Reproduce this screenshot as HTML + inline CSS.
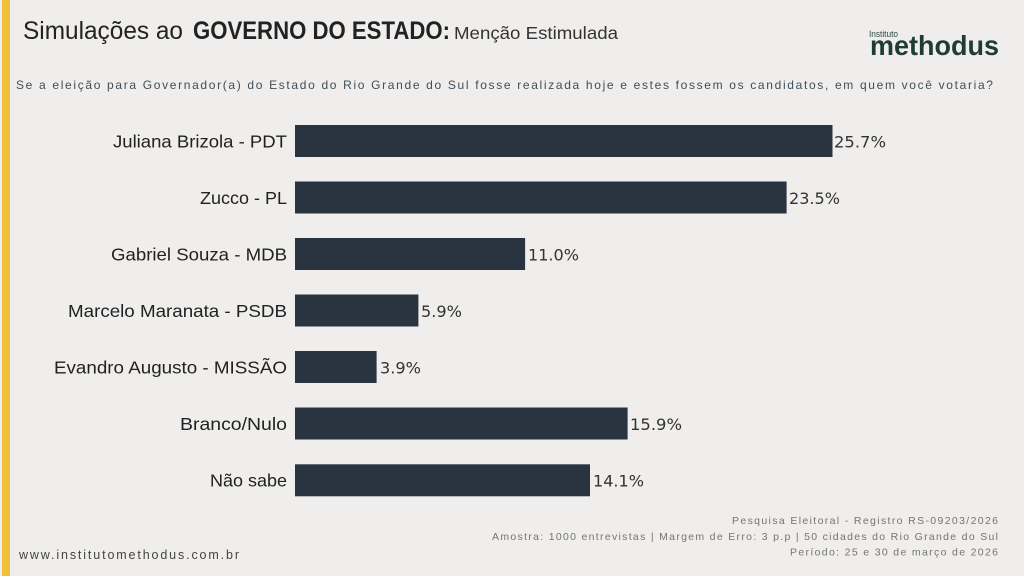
<!DOCTYPE html>
<html>
<head>
<meta charset="utf-8">
<style>
html,body{margin:0;padding:0;background:#efeeec;}
svg{display:block;}
</style>
</head>
<body>
<svg width="1024" height="576" viewBox="0 0 1024 576" xmlns="http://www.w3.org/2000/svg">
  <rect x="0" y="0" width="1024" height="576" fill="#efeeec"/>
  <rect x="2" y="0" width="8" height="576" fill="#f1c03b"/>

  <!-- Title -->
  <g font-family="Liberation Sans, sans-serif" fill="#222">
    <text x="23" y="39" font-size="25" textLength="160" lengthAdjust="spacingAndGlyphs">Simulações ao</text>
    <text x="193" y="39" font-size="25" font-weight="bold" textLength="257" lengthAdjust="spacingAndGlyphs">GOVERNO DO ESTADO:</text>
    <text x="454" y="39" font-size="17.5" textLength="164" lengthAdjust="spacingAndGlyphs" fill="#333">Menção Estimulada</text>
  </g>

  <!-- Logo -->
  <g font-family="Liberation Sans, sans-serif">
    <text x="869" y="37" font-size="9" fill="#2c4a42" textLength="29" lengthAdjust="spacingAndGlyphs">Instituto</text>
    <text x="870" y="55" font-size="28" font-weight="bold" fill="#1f3d36" textLength="129" lengthAdjust="spacingAndGlyphs">methodus</text>
  </g>

  <!-- Question -->
  <text x="16" y="89" font-family="Liberation Sans, sans-serif" font-size="12" fill="#3f4e59" textLength="977" lengthAdjust="spacing">Se a eleição para Governador(a) do Estado do Rio Grande do Sul fosse realizada hoje e estes fossem os candidatos, em quem você votaria?</text>

  <!-- Bars -->
  <g fill="#2a3441">
    <rect x="295" y="125" width="537.5" height="32"/>
    <rect x="295" y="181.5" width="491.6" height="32"/>
    <rect x="295" y="238" width="230.1" height="32"/>
    <rect x="295" y="294.5" width="123.4" height="32"/>
    <rect x="295" y="351" width="81.6" height="32"/>
    <rect x="295" y="407.5" width="332.6" height="32"/>
    <rect x="295" y="464.3" width="295" height="32"/>
  </g>

  <!-- Category labels -->
  <g font-family="Liberation Sans, sans-serif" font-size="17.5" fill="#222">
    <text x="113" y="147.3" textLength="174" lengthAdjust="spacingAndGlyphs">Juliana Brizola - PDT</text>
    <text x="200" y="203.8" textLength="87" lengthAdjust="spacingAndGlyphs">Zucco - PL</text>
    <text x="111" y="260.3" textLength="176" lengthAdjust="spacingAndGlyphs">Gabriel Souza - MDB</text>
    <text x="68" y="316.8" textLength="219" lengthAdjust="spacingAndGlyphs">Marcelo Maranata - PSDB</text>
    <text x="54" y="373.3" textLength="233" lengthAdjust="spacingAndGlyphs">Evandro Augusto - MISSÃO</text>
    <text x="180" y="429.8" textLength="107" lengthAdjust="spacingAndGlyphs">Branco/Nulo</text>
    <text x="210" y="486.5" textLength="77" lengthAdjust="spacingAndGlyphs">Não sabe</text>
  </g>

  <!-- Value labels -->
  <g font-family="DejaVu Sans, sans-serif" font-size="16" fill="#333">
    <text x="834" y="147.3" textLength="52" lengthAdjust="spacingAndGlyphs">25.7%</text>
    <text x="789" y="203.8" textLength="51" lengthAdjust="spacingAndGlyphs">23.5%</text>
    <text x="528" y="260.3" textLength="51" lengthAdjust="spacingAndGlyphs">11.0%</text>
    <text x="421" y="316.8" textLength="41" lengthAdjust="spacingAndGlyphs">5.9%</text>
    <text x="380" y="373.3" textLength="41" lengthAdjust="spacingAndGlyphs">3.9%</text>
    <text x="630" y="429.8" textLength="52" lengthAdjust="spacingAndGlyphs">15.9%</text>
    <text x="593" y="486.5" textLength="51" lengthAdjust="spacingAndGlyphs">14.1%</text>
  </g>

  <!-- Footer -->
  <g font-family="Liberation Sans, sans-serif" font-size="10.5" fill="#747474">
    <text x="732" y="524" textLength="266" lengthAdjust="spacing">Pesquisa Eleitoral - Registro RS-09203/2026</text>
    <text x="492" y="540" textLength="506" lengthAdjust="spacing">Amostra: 1000 entrevistas | Margem de Erro: 3 p.p | 50 cidades do Rio Grande do Sul</text>
    <text x="790" y="555.5" textLength="208" lengthAdjust="spacing">Período: 25 e 30 de março de 2026</text>
  </g>
  <text x="19" y="559" font-family="Liberation Sans, sans-serif" font-size="12.5" fill="#444" textLength="220" lengthAdjust="spacing">www.institutomethodus.com.br</text>
</svg>
</body>
</html>
